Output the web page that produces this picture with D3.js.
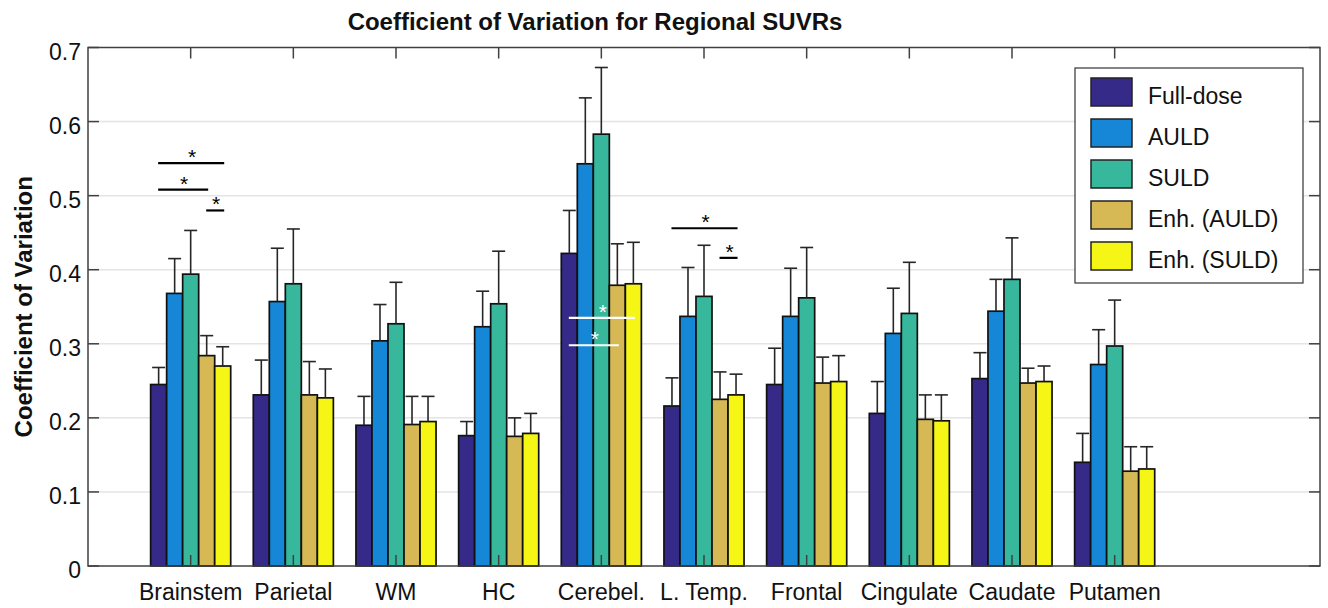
<!DOCTYPE html>
<html>
<head>
<meta charset="utf-8">
<script src="https://cdn.jsdelivr.net/npm/d3@7"></script>
<style>
  body { margin: 0; background: #fff; }
  svg { display: block; font-family: 'Liberation Sans', Arial, Helvetica, sans-serif; }
</style>
</head>
<body>
<svg id="chart" width="1328" height="608"></svg>
<script>
// ── Data ──────────────────────────────────────────────────────────────────────
const categories = ['Brainstem', 'Parietal', 'WM', 'HC', 'Cerebel.', 'L. Temp.', 'Frontal', 'Cingulate', 'Caudate', 'Putamen'];
const seriesNames = ['Full-dose', 'AULD', 'SULD', 'Enh. (AULD)', 'Enh. (SULD)'];

const fullDose    = [0.245, 0.231, 0.190, 0.176, 0.422, 0.216, 0.245, 0.206, 0.253, 0.140];
const fullDoseSD  = [0.023, 0.047, 0.039, 0.019, 0.058, 0.038, 0.049, 0.043, 0.035, 0.039];
const auld        = [0.368, 0.357, 0.304, 0.323, 0.543, 0.337, 0.337, 0.314, 0.344, 0.272];
const auldSD      = [0.047, 0.072, 0.049, 0.048, 0.089, 0.066, 0.065, 0.061, 0.043, 0.047];
const suld        = [0.394, 0.381, 0.327, 0.354, 0.583, 0.364, 0.362, 0.341, 0.387, 0.297];
const suldSD      = [0.059, 0.074, 0.056, 0.071, 0.090, 0.069, 0.068, 0.069, 0.056, 0.062];
const enhAuld     = [0.284, 0.231, 0.191, 0.175, 0.379, 0.225, 0.247, 0.198, 0.247, 0.128];
const enhAuldSD   = [0.027, 0.045, 0.038, 0.025, 0.056, 0.037, 0.035, 0.033, 0.020, 0.033];
const enhSuld     = [0.270, 0.227, 0.195, 0.179, 0.381, 0.231, 0.249, 0.196, 0.249, 0.131];
const enhSuldSD   = [0.026, 0.039, 0.034, 0.027, 0.056, 0.028, 0.035, 0.035, 0.021, 0.030];

const yTicks = [0, 0.1, 0.2, 0.3, 0.4, 0.5, 0.6, 0.7];

// significance brackets: category, from bar, to bar, height, colour
const sigCategory = ['Brainstem', 'Brainstem', 'Brainstem', 'Cerebel.', 'Cerebel.', 'L. Temp.', 'L. Temp.'];
const sigFrom     = [0, 0, 3, 0, 0, 0, 3];
const sigTo       = [4, 3, 4, 4, 3, 4, 4];
const sigHeight   = [0.544, 0.508, 0.480, 0.335, 0.298, 0.456, 0.416];
const sigColor    = ['#000', '#000', '#000', '#fff', '#fff', '#000', '#000'];

const colors = ['#352a87', '#1587d6', '#37b89d', '#d6b954', '#f5f516'];

const values = [fullDose, auld, suld, enhAuld, enhSuld];
const sds    = [fullDoseSD, auldSD, suldSD, enhAuldSD, enhSuldSD];

// ── Layout ────────────────────────────────────────────────────────────────────
const svg = d3.select('#chart');
const L = 88, R = 1320, T = 47.5, B = 566;

const x = d3.scaleLinear().domain([0, 12]).range([L, R]);
const y = d3.scaleLinear().domain([0, 0.7]).range([B, T]);

const groupWidth = 0.78;
const bw = groupWidth / seriesNames.length;
const barX = (ci, si) => ci + 1 + (si - (seriesNames.length - 1) / 2) * bw;

// gridlines
svg.append('g').selectAll('line')
  .data(yTicks.slice(1, -1)).enter().append('line')
  .attr('x1', L).attr('x2', R)
  .attr('y1', d => y(d)).attr('y2', d => y(d))
  .style('stroke', '#e4e4e4').style('stroke-width', 1.5);

// ── Bars ──────────────────────────────────────────────────────────────────────
const flat = [];
categories.forEach((c, ci) => {
  seriesNames.forEach((s, si) => {
    flat.push({ ci, si, v: values[si][ci], sd: sds[si][ci] });
  });
});

const gBars = svg.append('g');
gBars.selectAll('rect').data(flat).enter().append('rect')
  .attr('x', d => x(barX(d.ci, d.si) - bw / 2))
  .attr('width', x(bw) - x(0))
  .attr('y', d => y(d.v))
  .attr('height', d => y(0) - y(d.v))
  .style('fill', d => colors[d.si])
  .style('stroke', '#111').style('stroke-width', 1.7);

// error bars (upper only)
const capW = 6.5;
const gErr = svg.append('g').style('stroke', '#262626').style('stroke-width', 1.6);
gErr.selectAll('line.stem').data(flat).enter().append('line')
  .attr('class', 'stem')
  .attr('x1', d => x(barX(d.ci, d.si))).attr('x2', d => x(barX(d.ci, d.si)))
  .attr('y1', d => y(d.v)).attr('y2', d => y(d.v + d.sd));
gErr.selectAll('line.cap').data(flat).enter().append('line')
  .attr('class', 'cap')
  .attr('x1', d => x(barX(d.ci, d.si)) - capW).attr('x2', d => x(barX(d.ci, d.si)) + capW)
  .attr('y1', d => y(d.v + d.sd)).attr('y2', d => y(d.v + d.sd));

// ── Significance markers ──────────────────────────────────────────────────────
const sig = sigCategory.map((c, i) => ({
  ci: categories.indexOf(c), from: sigFrom[i], to: sigTo[i], h: sigHeight[i], color: sigColor[i]
}));
const gSig = svg.append('g');
gSig.selectAll('line').data(sig).enter().append('line')
  .attr('x1', d => x(barX(d.ci, d.from)) - 0.5)
  .attr('x2', d => x(barX(d.ci, d.to)) + 1.5)
  .attr('y1', d => y(d.h)).attr('y2', d => y(d.h))
  .style('stroke', d => d.color).style('stroke-width', 2.2);
gSig.selectAll('text').data(sig).enter().append('text')
  .attr('x', d => (x(barX(d.ci, d.from)) + x(barX(d.ci, d.to))) / 2 + 1.5)
  .attr('y', d => y(d.h) + 1)
  .attr('text-anchor', 'middle')
  .style('font-size', '21px')
  .style('fill', d => d.color)
  .text('*');

// ── Axes box & ticks ──────────────────────────────────────────────────────────
const axisColor = '#404040';
const gAx = svg.append('g').style('stroke', axisColor).style('stroke-width', 1.5);
gAx.append('rect')
  .attr('x', L).attr('y', T).attr('width', R - L).attr('height', B - T)
  .style('fill', 'none');

const tickLen = 11;
gAx.selectAll('line.yl').data(yTicks).enter().append('line')
  .attr('x1', L).attr('x2', L + tickLen)
  .attr('y1', d => y(d)).attr('y2', d => y(d));
gAx.selectAll('line.yr').data(yTicks).enter().append('line')
  .attr('x1', R).attr('x2', R - tickLen)
  .attr('y1', d => y(d)).attr('y2', d => y(d));
gAx.selectAll('line.xb').data(categories).enter().append('line')
  .attr('x1', (d, i) => x(i + 1)).attr('x2', (d, i) => x(i + 1))
  .attr('y1', B).attr('y2', B - tickLen);
gAx.selectAll('line.xt').data(categories).enter().append('line')
  .attr('x1', (d, i) => x(i + 1)).attr('x2', (d, i) => x(i + 1))
  .attr('y1', T).attr('y2', T + tickLen);

// tick labels
svg.append('g').selectAll('text')
  .data(yTicks).enter().append('text')
  .attr('x', L - 7).attr('y', d => y(d) + 12)
  .attr('text-anchor', 'end')
  .style('font-size', '23px').style('fill', '#111')
  .text(d => d === 0 ? '0' : d.toFixed(1));

svg.append('g').selectAll('text')
  .data(categories).enter().append('text')
  .attr('x', (d, i) => x(i + 1)).attr('y', 600)
  .attr('text-anchor', 'middle')
  .style('font-size', '23px').style('fill', '#111')
  .text(d => d);

// title & y label
svg.append('text')
  .attr('x', 595).attr('y', 30)
  .attr('text-anchor', 'middle')
  .style('font-size', '24px').style('font-weight', 'bold').style('fill', '#111')
  .text('Coefficient of Variation for Regional SUVRs');

svg.append('text')
  .attr('transform', `translate(32,${(T + B) / 2}) rotate(-90)`)
  .attr('text-anchor', 'middle')
  .style('font-size', '24px').style('font-weight', 'bold').style('fill', '#111')
  .text('Coefficient of Variation');

// ── Legend ────────────────────────────────────────────────────────────────────
const gLeg = svg.append('g');
gLeg.append('rect')
  .attr('x', 1075).attr('y', 68).attr('width', 228).attr('height', 215)
  .style('fill', '#fff').style('stroke', '#333').style('stroke-width', 1.2);

const rows = gLeg.selectAll('g.row').data(seriesNames).enter().append('g')
  .attr('transform', (d, i) => `translate(0,${92 + i * 41})`);
rows.append('rect')
  .attr('x', 1091).attr('y', -14).attr('width', 41).attr('height', 28)
  .style('fill', (d, i) => colors[i])
  .style('stroke', '#222').style('stroke-width', 1.5);
rows.append('text')
  .attr('x', 1148).attr('y', 12)
  .style('font-size', '23px').style('fill', '#111')
  .text(d => d);
</script>
</body>
</html>
